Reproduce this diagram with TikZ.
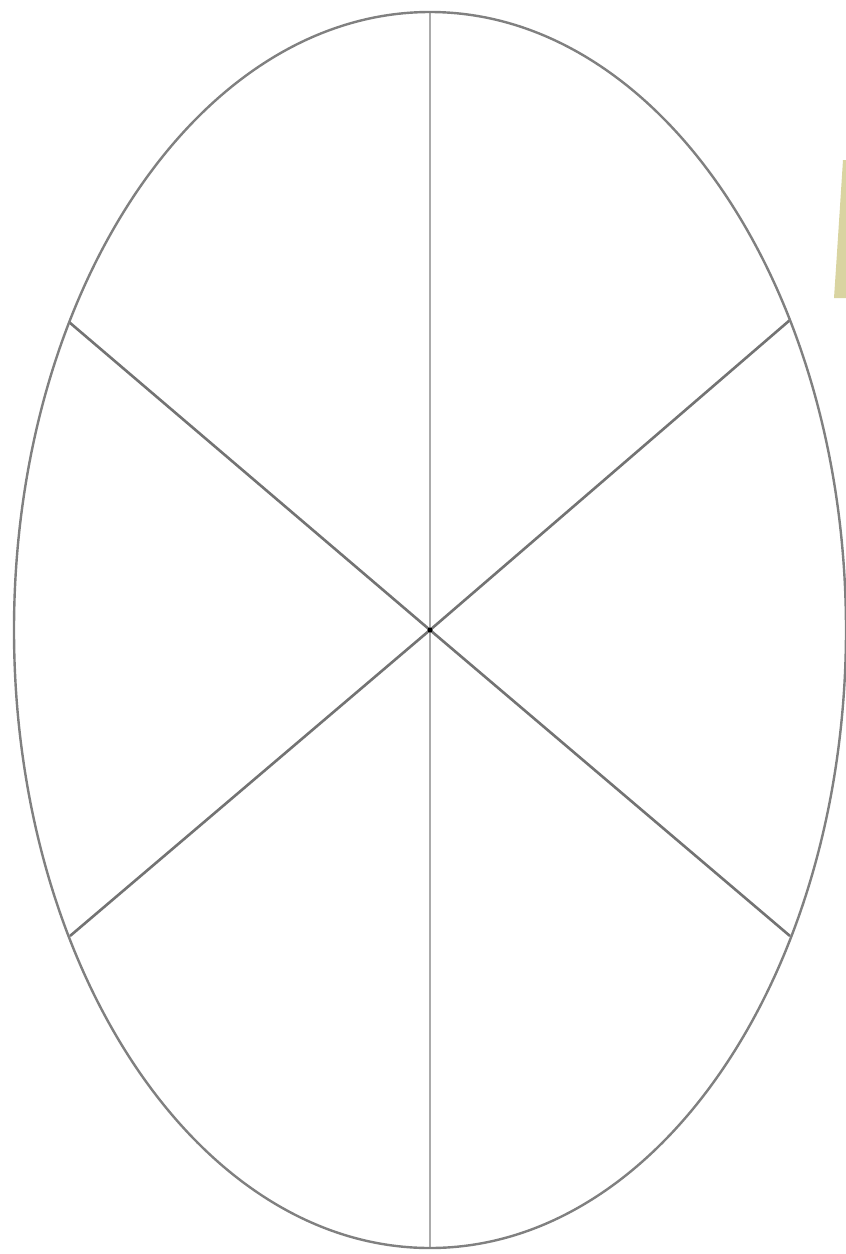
\documentclass[tikz,border=0pt]{standalone}
\begin{document}
\begin{tikzpicture}[x=1pt,y=-1pt,
  rim/.style={draw=black!50, line width=2.4pt},
  axis/.style={draw=black!33, line width=2.8pt},
  spoke/.style={draw=black!55, line width=2.6pt}]
\useasboundingbox (0,0) rectangle (846,1254);
\fill[white] (0,0) rectangle (846,1254);
\coordinate (c) at (430,630);
\coordinate (top) at (430,12);
\coordinate (bot) at (430,1248);
\coordinate (ul) at (69,322);
\coordinate (ur) at (790,320);
\coordinate (ll) at (70,936);
\coordinate (lr) at (790,936);
% faint yellow mark at top right
\definecolor{markcol}{RGB}{205,198,130}
\fill[markcol, opacity=0.75] (843,160) -- (846,160) -- (846,298) -- (834,298) -- (836,268) -- cycle;
\draw[axis] (top) -- (bot);
\draw[spoke] (ul) -- (c) -- (lr);
\draw[spoke] (ur) -- (c) -- (ll);
\draw[rim] (c) ellipse [x radius=416, y radius=618];
\fill[black] (c) circle (2.5);
\end{tikzpicture}
\end{document}
